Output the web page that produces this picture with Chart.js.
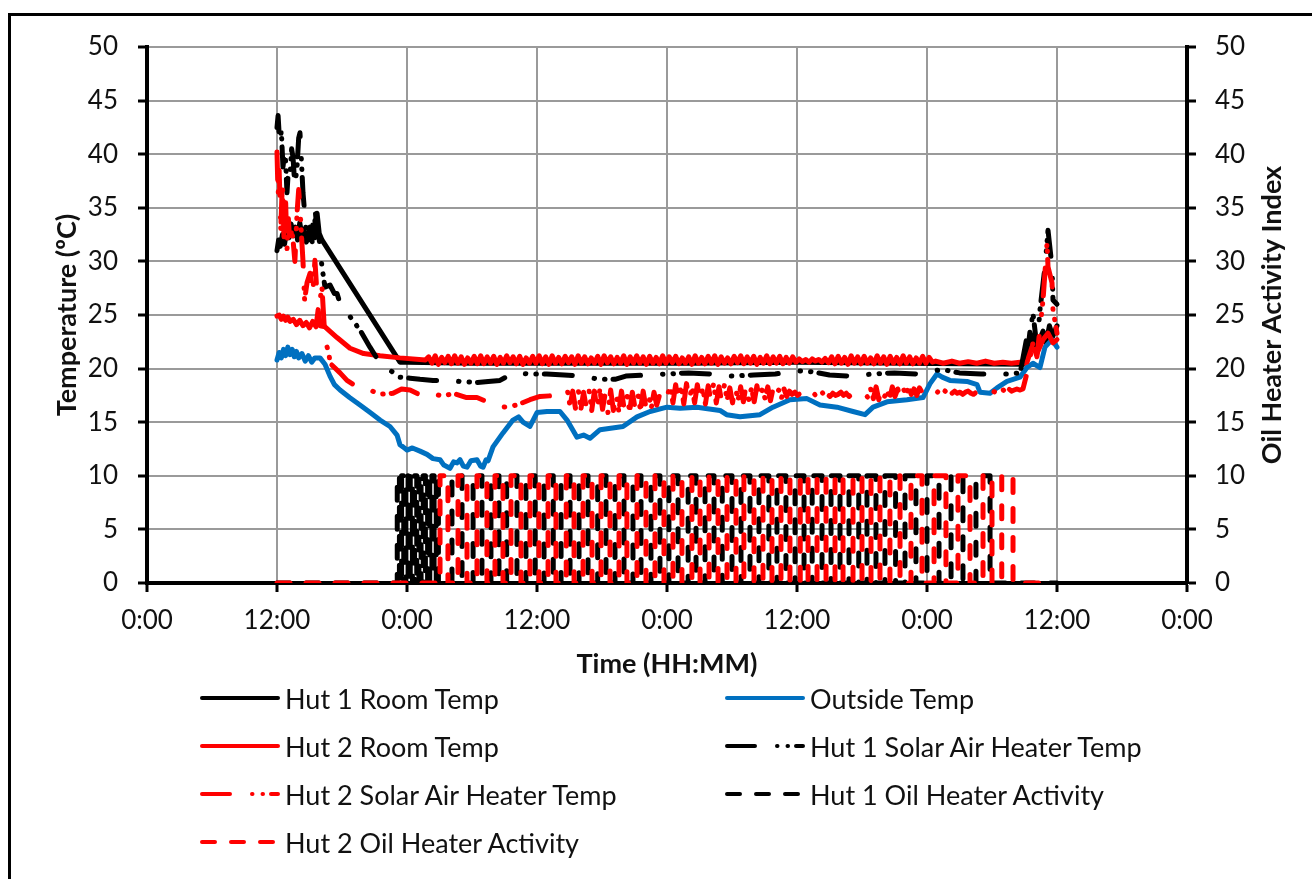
<!DOCTYPE html>
<html>
<head>
<meta charset="utf-8">
<title>Hut temperatures and oil heater activity</title>
<script src="https://cdn.jsdelivr.net/npm/chart.js@4.4.1/dist/chart.umd.min.js"></script>
<style>
  html, body { margin: 0; padding: 0; background: #fff; overflow: hidden; }
  #wrap { position: relative; width: 1312px; height: 879px; overflow: hidden; background: #fff; }
  #frame { position: absolute; left: 8px; top: 13px; width: 1400px; height: 1000px; border: 3px solid #000; box-sizing: border-box; pointer-events: none; }
  #chart { position: absolute; left: 0; top: 0; }
  #legend { position: absolute; left: 0; top: 0; width: 1312px; height: 879px; pointer-events: none;
            font-family: Lato, "Open Sans", sans-serif; font-size: 27px; color: #111; }
  #legend .item { position: absolute; display: flex; align-items: center; height: 40px; white-space: nowrap; }
  #legend svg { display: block; margin-right: 3px; }
</style>
</head>
<body>
<div id="wrap">
  <canvas id="chart" width="1312" height="879"></canvas>
  <div id="legend"></div>
  <div id="frame"></div>
</div>
<script>
// ---------- axis labels ----------
const xTickLabels = ['0:00', '12:00', '0:00', '12:00', '0:00', '12:00', '0:00', '12:00', '0:00'];

// ---------- series labels ----------
const seriesLabels = [
  'Hut 1 Room Temp',
  'Outside Temp',
  'Hut 2 Room Temp',
  'Hut 1 Solar Air Heater Temp',
  'Hut 2 Solar Air Heater Temp',
  'Hut 1 Oil Heater Activity',
  'Hut 2 Oil Heater Activity'
];

// ---------- Outside temperature (hours since first midnight, °C) ----------
const outsideTimes = [12.0,12.2,12.4,12.6,12.8,13.0,13.2,13.4,13.6,13.8,14.0,14.3,14.6,14.9,15.2,15.5,15.97,16.43,16.89,17.3,
  17.82,18.7,19.66,20.6,21.51,22.43,23.08,23.35,23.63,24.0,24.5,25.2,25.85,26.4,27.05,27.4,27.97,28.3,28.62,28.89,
  29.2,29.54,29.9,30.46,30.8,31.02,31.3,31.48,31.94,32.86,33.78,34.3,34.71,35.35,36.0,36.92,38.12,38.77,39.69,40.3,
  40.89,41.82,43.94,45.23,46.43,48.0,49.2,50.77,52.89,53.5,54.74,56.58,57.78,59.35,60.92,62.12,63.69,65.17,66.28,67.02,
  68.31,70.15,71.63,72.28,72.92,73.4,74.12,75.69,76.62,76.89,77.82,78.46,79.38,80.58,81.23,81.78,82.43,82.89,83.54,84.0];
const outsideTemp = [20.8,21.5,21.0,21.8,21.2,22.0,21.3,21.8,21.1,21.6,21.0,21.4,20.7,21.2,20.6,21.0,21.0,20.4,19.3,18.5,
  18.0,17.3,16.6,15.9,15.2,14.6,13.8,12.9,12.7,12.4,12.6,12.3,12.0,11.6,11.5,11.0,10.7,11.3,11.2,11.5,
  10.9,10.8,11.4,11.5,10.9,10.8,11.5,11.4,12.7,14.0,15.2,15.5,15.0,14.6,15.9,16.0,16.0,15.2,13.6,13.8,
  13.5,14.3,14.6,15.5,16.0,16.4,16.3,16.4,16.1,15.7,15.5,15.7,16.4,17.1,17.2,16.6,16.4,16.0,15.7,16.4,
  16.9,17.1,17.3,18.6,19.5,19.2,18.9,18.8,18.5,17.8,17.7,18.2,18.8,19.2,20.1,20.5,20.1,22.0,22.7,22.0];

// ---------- Hut 1 room temperature ----------
const hut1RoomTimes = [12.0,12.15,12.3,12.5,12.7,12.9,13.1,13.3,13.5,13.7,13.9,14.1,14.3,14.5,14.7,14.9,15.1,15.3,15.5,15.7,
  15.9,16.15,23.35,24.0,30.0,40.0,50.0,60.0,70.0,80.9,81.23,81.5,81.78,82.15,82.43,82.71,83.0,83.3,83.6,84.0];
const hut1RoomTemp = [31.0,32.0,31.4,32.5,31.6,33.0,32.2,33.5,32.4,33.2,32.0,33.6,32.5,33.0,31.8,32.6,32.0,33.4,32.2,34.5,
  32.6,32.0,20.6,20.6,20.5,20.5,20.5,20.6,20.5,20.4,21.0,23.4,22.6,21.9,22.8,23.5,22.4,24.0,23.0,24.0];

// ---------- Hut 2 room temperature ----------
const hut2RoomTimes = [12.0,12.2,12.4,12.6,12.8,13.0,13.2,13.5,13.8,14.1,14.4,14.7,15.0,15.3,15.6,15.8,16.0,16.43,17.54,18.74,
  20.0,21.51,23.35,25.7];
const hut2RoomTemp = [24.9,25.0,24.6,24.9,24.5,24.8,24.4,24.6,24.1,24.5,24.0,24.3,23.8,24.4,23.9,25.5,24.0,23.9,22.9,21.9,
  21.4,21.2,21.0,20.8];
// heated period, one reading every 0.3 h from 26.0 h
const hut2RoomCycleStart = 26.0;
const hut2RoomCycleStep = 0.3;
const hut2RoomCycle = [
  21.1,20.5,21.2,20.4,21.05,20.55,21.15,20.45,21.2,20.5,21.1,20.4,21.0,20.5,21.15,20.45,
  21.2,20.45,21.1,20.5,21.15,20.4,21.05,20.5,21.2,20.55,21.1,20.45,21.15,20.4,21.0,20.5,
  21.15,20.5,21.2,20.45,21.1,20.4,21.2,20.5,21.05,20.45,21.15,20.55,21.1,20.4,21.2,20.5,
  21.1,20.45,21.0,20.5,21.15,20.4,21.2,20.55,21.1,20.45,21.05,20.5,21.2,20.4,21.1,20.5,
  21.2,20.5,21.1,20.4,21.15,20.5,21.05,20.45,21.2,20.5,21.1,20.55,21.15,20.45,21.0,20.5,
  21.1,20.4,21.2,20.5,21.05,20.45,21.15,20.5,21.2,20.4,21.1,20.5,21.0,20.45,21.15,20.55,
  21.2,20.45,21.1,20.5,21.15,20.4,21.05,20.5,21.2,20.45,21.1,20.5,21.15,20.45,21.05,20.5,
  21.1,20.6,
  20.9,20.65,20.85,20.6,20.9,20.7,20.85,20.6,20.95,20.55,
  21.1,20.45,21.15,20.5,21.05,20.4,21.2,20.5,21.1,20.45,21.15,20.5,21.0,20.45,21.2,20.5,
  21.1,20.4,21.15,20.5,21.05,20.45,21.2,20.5,21.1,20.45,21.0,20.5,21.15,20.5,21.05,20.6];
const hut2RoomTailTimes = [72.8,73.5,74.3,75.0,75.8,76.6,77.4,78.2,79.0,79.8,80.6,80.9,81.23,81.69,82.15,82.71,83.17,83.63,84.0];
const hut2RoomTailTemp = [20.7,20.5,20.7,20.5,20.65,20.5,20.7,20.5,20.6,20.5,20.6,20.5,20.6,22.0,21.4,22.7,23.3,22.4,22.7];

// ---------- Hut 1 solar air heater temperature ----------
const hut1SolarTimes = [12.0,12.1,12.25,12.4,12.55,12.75,12.92,13.05,13.2,13.35,13.48,13.65,13.85,14.0,14.12,14.25,14.4,14.6,14.77,15.05,
  15.32,15.55,15.69,15.9,16.15,16.43,16.89,17.3,17.54,17.82,19.66,20.58,21.51,23.35,
  24.28,25.2,26.4,27.5,28.9,30.5,31.5,32.58,33.3,33.78,35.35,36.9,38.5,40.0,41.8,43.2,44.2,46.0,48.0,50.0,
  52.0,54.0,56.0,58.0,60.0,61.5,63.0,65.0,67.0,69.0,71.0,72.5,73.5,75.0,77.0,79.5,80.6,
  81.23,81.6,81.78,82.15,82.43,82.89,83.17,83.54,83.63,84.0];
const hut1SolarTemp = [42.5,43.6,41.0,42.2,38.8,40.5,36.4,38.5,37.9,40.5,39.7,37.0,38.8,41.5,42.0,39.5,36.4,34.0,31.7,33.2,
  31.3,34.5,33.0,32.0,29.5,27.6,27.8,27.0,27.0,26.1,23.6,22.0,20.5,19.2,
  19.1,19.0,18.9,18.9,18.8,18.7,18.8,18.9,19.3,19.6,19.5,19.5,19.4,19.3,19.0,19.0,19.3,19.4,19.5,19.6,
  19.5,19.3,19.4,19.5,19.8,19.7,19.4,19.3,19.5,19.6,19.5,19.8,19.9,19.6,19.5,19.5,19.6,
  23.0,23.9,25.2,22.0,25.5,29.5,32.9,29.5,26.4,26.0];

// ---------- Hut 2 solar air heater temperature ----------
const hut2SolarTimes = [12.0,12.1,12.2,12.35,12.5,12.65,12.8,12.92,13.05,13.2,13.35,13.48,13.65,13.85,14.0,14.12,14.25,14.4,14.55,14.77,
  15.05,15.3,15.5,15.69,15.97,16.15,16.43,16.8,16.89,17.82,18.46,19.4,20.58,21.5,22.71,23.5,24.28,25.3,26.4,27.3,
  28.25,29.5,30.46,31.66,32.86,34.15,35.35,36.28,37.85,38.6];
const hut2SolarTemp = [40.2,36.0,38.5,33.0,37.5,32.0,35.5,31.0,34.0,31.5,33.0,32.0,30.0,34.5,36.7,35.0,32.6,30.0,26.4,28.0,
  28.9,27.0,30.1,27.0,26.4,27.6,22.7,21.4,20.5,19.6,18.9,18.3,18.0,17.6,17.7,18.1,18.0,17.5,17.7,17.4,
  17.7,17.3,17.3,16.8,16.4,16.6,17.1,17.4,17.5,17.7];
// one reading every 0.25 h from 38.8 h
const hut2SolarScanStart = 38.8;
const hut2SolarScanStep = 0.25;
const hut2SolarScan = [
  18.0,16.5,17.9,16.3,18.1,16.2,17.8,16.4,18.0,16.1,17.9,16.0,18.1,16.2,17.7,15.9,18.0,16.1,17.8,16.0,
  17.9,16.2,17.6,16.0,17.8,16.3,17.7,16.1,17.9,16.4,17.6,16.3,17.8,16.6,17.5,16.8,17.4,
  17.6,18.3,16.8,18.5,16.9,18.4,16.7,18.6,17.0,18.3,16.8,18.5,16.9,18.2,16.7,18.4,17.0,18.6,16.8,18.3,
  16.9,18.5,17.1,18.2,16.8,18.4,17.0,18.3,16.9,18.5,17.1,18.2,16.9,18.4,17.0,18.1,17.2,18.3,17.0,18.2,
  17.3,18.0,17.2,18.1,17.4,17.9,
  17.6,17.8,17.5,17.7,17.4,17.8,17.6,17.5,17.7,17.4,17.6,17.8,17.5,17.6,17.4,17.7,17.5,17.6,17.8,17.5,
  17.7,17.4,17.6,17.5,17.7,17.8,17.5,17.6,
  17.3,18.1,17.2,18.3,17.1,18.2,17.3,18.0,17.2,18.3,17.4,18.1,17.2,18.2,17.5,18.3,17.6,18.1,17.5,18.2,
  17.8,17.9,
  17.7,18.0,17.8,17.6,17.9,17.7,18.0,17.8,17.6,17.7,17.9,17.7,17.8,17.6,17.8,17.9,17.7,17.6,17.8,17.7,
  17.9,17.8,17.6,17.7,17.9,17.8,17.7,17.9,18.0,17.8,18.1,17.9,18.0,18.1,18.0];
const hut2SolarTailTimes = [80.86,81.23,81.78,82.15,82.71,83.08,83.17,83.54,83.63,84.0];
const hut2SolarTailTemp = [18.1,19.6,22.4,21.1,26.4,31.7,29.5,28.0,25.5,23.3];

// ---------- Oil heater activity index (switching times in hours, level after each switch) ----------
const hut1OilTimes = [12.0,
  23.10,23.30,23.50,23.70,23.90,24.10,24.30,24.50,24.70,24.90,25.10,25.30,25.50,25.70,25.90,26.10,26.30,26.50,26.70,26.90,
  28.15,29.08,30.10,30.92,31.75,32.49,33.20,34.15,34.98,35.82,36.65,37.50,38.22,39.05,39.88,40.71,41.60,42.37,
  43.20,44.03,44.86,45.60,46.52,47.35,48.18,49.02,49.95,50.68,51.51,52.34,53.10,54.00,54.83,55.66,56.49,57.40,
  58.15,58.98,59.82,60.65,61.40,62.31,63.14,63.97,64.80,65.70,66.46,67.29,68.12,69.10,69.97,70.98,72.00,73.11,
  74.22,75.32,76.52,77.82,
  84.0];
const hut1OilLevel = [0,
  10,0,10,0,10,0,10,0,10,0,10,0,10,0,10,0,10,0,10,0,
  10,0,10,0,10,0,10,0,10,0,10,0,10,0,10,0,10,0,
  10,0,10,0,10,0,10,0,10,0,10,0,10,0,10,0,10,0,
  10,0,10,0,10,0,10,0,10,0,10,0,10,0,10,0,10,0,
  10,0,10,0,
  0];
const hut2OilTimes = [12.0,
  27.05,27.78,28.71,29.54,30.46,31.38,32.12,32.86,33.60,34.52,35.35,36.18,37.02,37.75,38.70,39.42,40.25,41.08,41.91,42.74,
  43.57,44.30,45.23,46.06,46.89,47.72,48.55,49.38,50.30,51.05,51.88,52.71,53.54,54.37,55.10,56.03,56.86,57.69,58.52,59.35,
  60.30,61.02,61.85,62.68,63.51,64.25,65.17,66.00,66.83,67.66,68.58,69.51,70.52,71.54,72.65,73.75,74.86,75.97,77.17,78.00,
  78.90,79.94,
  83.1];
const hut2OilLevel = [0,
  10,0,10,0,10,0,10,0,10,0,10,0,10,0,10,0,10,0,10,0,
  10,0,10,0,10,0,10,0,10,0,10,0,10,0,10,0,10,0,10,0,
  10,0,10,0,10,0,10,0,10,0,10,0,10,0,10,0,10,0,10,0,
  10,0,
  0];

// ---------- helpers that pair times with readings ----------
function pairs(times, values) {
  return times.map((t, i) => ({ x: t, y: values[i] }));
}
function series(start, step, values) {
  return values.map((v, i) => ({ x: +(start + i * step).toFixed(3), y: v }));
}

// ---------- styles ----------
const BLACK = '#000000', RED = '#ff0000', BLUE = '#0070c0';
const DASH_DOT_DOT = [28, 22, 0.5, 10, 0.5, 8];
const DASHED = [13, 16];
const TEXT = '#111111';
const FONT = 'Lato, "Open Sans", sans-serif';

function lineStyle(color, dash, axis) {
  return {
    borderColor: color, backgroundColor: color, borderWidth: 5,
    borderDash: dash, borderCapStyle: 'round', borderJoinStyle: 'round',
    pointRadius: 0, pointHoverRadius: 0, fill: false, tension: 0,
    yAxisID: axis
  };
}

const datasets = [
  Object.assign({ label: seriesLabels[0], data: pairs(hut1RoomTimes, hut1RoomTemp) }, lineStyle(BLACK, [], 'y')),
  Object.assign({ label: seriesLabels[1], data: pairs(outsideTimes, outsideTemp) }, lineStyle(BLUE, [], 'y')),
  Object.assign({ label: seriesLabels[2],
    data: pairs(hut2RoomTimes, hut2RoomTemp)
      .concat(series(hut2RoomCycleStart, hut2RoomCycleStep, hut2RoomCycle))
      .concat(pairs(hut2RoomTailTimes, hut2RoomTailTemp)) }, lineStyle(RED, [], 'y')),
  Object.assign({ label: seriesLabels[3], data: pairs(hut1SolarTimes, hut1SolarTemp) }, lineStyle(BLACK, DASH_DOT_DOT, 'y')),
  Object.assign({ label: seriesLabels[4],
    data: pairs(hut2SolarTimes, hut2SolarTemp)
      .concat(series(hut2SolarScanStart, hut2SolarScanStep, hut2SolarScan))
      .concat(pairs(hut2SolarTailTimes, hut2SolarTailTemp)) }, lineStyle(RED, DASH_DOT_DOT, 'y')),
  Object.assign({ label: seriesLabels[5], data: pairs(hut1OilTimes, hut1OilLevel), stepped: 'before' }, lineStyle(BLACK, DASHED, 'y2')),
  Object.assign({ label: seriesLabels[6], data: pairs(hut2OilTimes, hut2OilLevel), stepped: 'before' }, lineStyle(RED, DASHED, 'y2'))
];
// later series are painted over earlier ones
datasets.forEach((ds, i) => { ds.order = datasets.length - i; });

// ---------- two-column legend under the plot ----------
const LEGEND_COL_X = [200, 725];
const LEGEND_ROW_Y = [698, 746, 794, 842];
const htmlLegend = {
  id: 'htmlLegend',
  afterUpdate(chart) {
    const box = document.getElementById('legend');
    box.innerHTML = '';
    chart.data.datasets.forEach((ds, i) => {
      const item = document.createElement('div');
      item.className = 'item';
      item.style.left = LEGEND_COL_X[i % 2] + 'px';
      item.style.top = (LEGEND_ROW_Y[Math.floor(i / 2)] - 20) + 'px';
      const ns = 'http://www.w3.org/2000/svg';
      const svg = document.createElementNS(ns, 'svg');
      svg.setAttribute('width', '82');
      svg.setAttribute('height', '12');
      const ln = document.createElementNS(ns, 'line');
      ln.setAttribute('x1', '2'); ln.setAttribute('y1', '6');
      ln.setAttribute('x2', '78'); ln.setAttribute('y2', '6');
      ln.setAttribute('stroke', ds.borderColor);
      ln.setAttribute('stroke-width', '4');
      ln.setAttribute('stroke-linecap', 'round');
      if (ds.borderDash && ds.borderDash.length) ln.setAttribute('stroke-dasharray', ds.borderDash.join(' '));
      svg.appendChild(ln);
      const txt = document.createElement('span');
      txt.textContent = ds.label;
      item.appendChild(svg);
      item.appendChild(txt);
      box.appendChild(item);
    });
  }
};

// ---------- right-hand axis title, reading bottom to top ----------
const rightAxisTitle = {
  id: 'rightAxisTitle',
  afterDraw(chart) {
    const s = chart.scales.y2;
    const t = s.options.title;
    const c = chart.ctx;
    c.save();
    c.font = 'bold 27px ' + FONT;
    c.fillStyle = TEXT;
    c.textAlign = 'center';
    c.textBaseline = 'middle';
    c.translate(s.left + 85, (s.top + s.bottom) / 2);
    c.rotate(-Math.PI / 2);
    c.fillText(t.text, 0, 0);
    c.restore();
  }
};

Chart.defaults.font.family = FONT;
Chart.defaults.font.size = 26;
Chart.defaults.color = TEXT;

const gridStyle = { color: '#9a9a9a', lineWidth: 2, tickColor: '#000', tickWidth: 3, tickLength: 9 };
const borderStyle = { color: '#000', width: 4 };

new Chart(document.getElementById('chart'), {
  type: 'line',
  data: { datasets },
  options: {
    responsive: false,
    animation: false,
    events: [],
    normalized: true,
    layout: { padding: { left: 0, right: 0, top: 47, bottom: 196 } },
    plugins: { legend: { display: false }, tooltip: { enabled: false } },
    scales: {
      x: {
        type: 'linear', min: 0, max: 96,
        ticks: { stepSize: 12, autoSkip: false, maxRotation: 0, padding: 13,
                 callback: (v) => xTickLabels[Math.round(v / 12)] },
        grid: gridStyle,
        border: borderStyle,
        title: { display: true, text: 'Time (HH:MM)', font: { size: 27, weight: 'bold' }, padding: { top: 0, bottom: 3 } },
        afterFit(scale) { scale.height = 100; }
      },
      y: {
        position: 'left', min: 0, max: 50,
        ticks: { stepSize: 5, padding: 20 },
        grid: gridStyle,
        border: borderStyle,
        title: { display: true, text: 'Temperature (ºC)', font: { size: 27, weight: 'bold' }, padding: { top: 51, bottom: 0 } },
        afterFit(scale) { scale.width = 147; }
      },
      y2: {
        position: 'right', min: 0, max: 50,
        ticks: { stepSize: 5, padding: 19 },
        grid: Object.assign({}, gridStyle, { drawOnChartArea: false }),
        border: borderStyle,
        title: { display: false, text: 'Oil Heater Activity Index' },
        afterFit(scale) { scale.width = 125; }
      }
    }
  },
  plugins: [htmlLegend, rightAxisTitle]
});
</script>
</body>
</html>
